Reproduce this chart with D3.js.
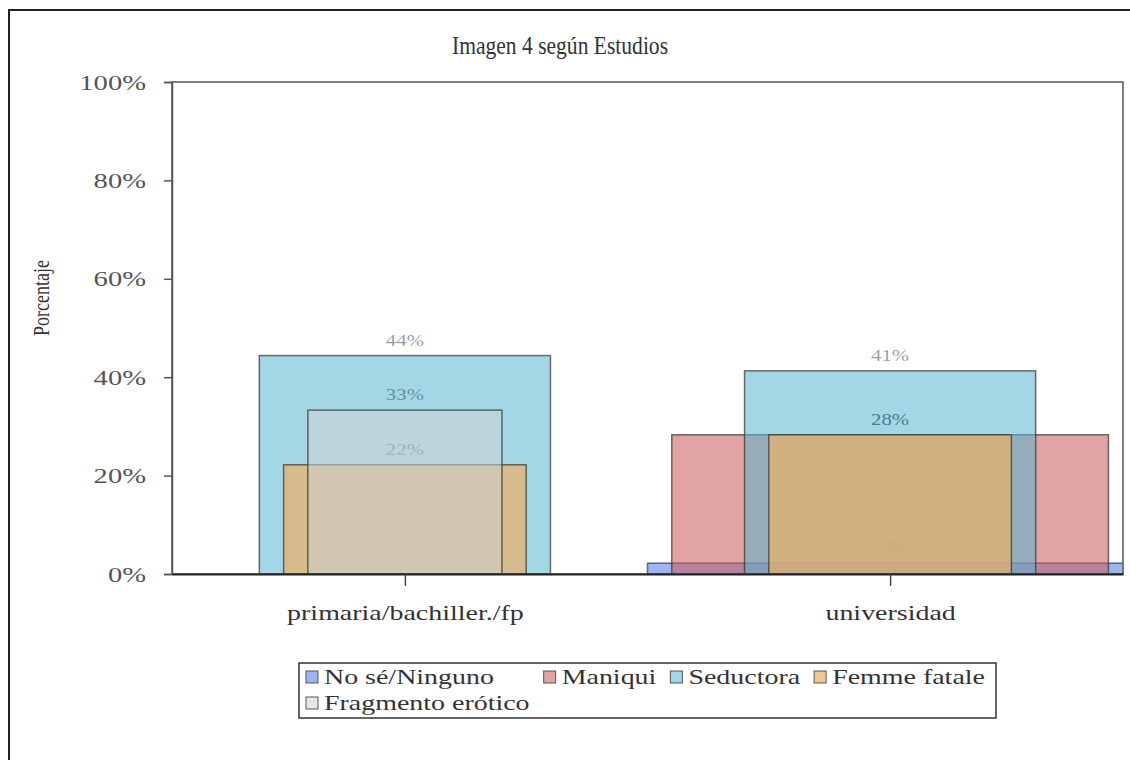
<!DOCTYPE html>
<html>
<head>
<meta charset="utf-8">
<script src="https://cdn.jsdelivr.net/npm/d3@7"></script>
<style>
  body { margin: 0; background: #fff; }
  text { font-family: "Liberation Serif", "Times New Roman", serif; }
</style>
</head>
<body>
<script>
const width = 1130,
  height = 760;

// data
const categories = ["primaria/bachiller./fp", "universidad"];
const seriesNames = ["No sé/Ninguno", "Maniqui", "Seductora", "Femme fatale", "Fragmento erótico"];
const noSe = [0, 2.2];
const maniqui = [0, 28.3];
const seductora = [44.4, 41.3];
const femmeFatale = [22.2, 28.3];
const fragmento = [33.3, 0];
const yTicks = [0, 20, 40, 60, 80, 100];

const seriesValues = [noSe, maniqui, seductora, femmeFatale, fragmento];
// each series is drawn a bit narrower than the one under it
const widthFrac = [1.0, 0.9, 0.6, 0.5, 0.4];
const fills = ["#6a8ef0", "#c8575a", "#5ab6d0", "#ebaf66", "#d0d2d4"];
const opac = [0.65, 0.55, 0.55, 0.7, 0.55];

const sx = 1.3; // glyphs in the picture are wide

const margin = { top: 82, right: 7, bottom: 186, left: 172 };

const svg = d3
  .select("body")
  .append("svg")
  .attr("width", width)
  .attr("height", height);

// outer frame, cut off at right and bottom
svg.append("path")
  .attr("d", "M9,760 V10 H1130")
  .attr("fill", "none")
  .attr("stroke", "#222")
  .attr("stroke-width", 2);

const x = d3
  .scalePoint()
  .domain(categories)
  .range([margin.left, width - margin.right])
  .padding(0.48);

const y = d3
  .scaleLinear()
  .domain([0, 100])
  .range([height - margin.bottom, margin.top]);

svg.append("clipPath")
  .attr("id", "plotclip")
  .append("rect")
  .attr("x", margin.left)
  .attr("y", margin.top)
  .attr("width", width - margin.left - margin.right)
  .attr("height", height - margin.top - margin.bottom);

const plot = svg.append("g").attr("clip-path", "url(#plotclip)");

seriesValues.forEach((vals, s) => {
  const w = x.step() * widthFrac[s];
  const rows = categories
    .map((c, i) => ({ cat: c, v: vals[i] }))
    .filter(d => d.v > 0);
  const g = plot.append("g");
  g.selectAll("rect")
    .data(rows)
    .join("rect")
    .attr("x", d => x(d.cat) - w / 2)
    .attr("y", d => y(d.v))
    .attr("width", w)
    .attr("height", d => y(0) - y(d.v))
    .attr("fill", fills[s])
    .attr("fill-opacity", opac[s])
    .attr("stroke", "#333")
    .attr("stroke-opacity", 0.7)
    .attr("stroke-width", 1.5);
  g.selectAll("text")
    .data(rows)
    .join("text")
    .attr("transform", d => `translate(${x(d.cat)},${y(d.v) - 10}) scale(${sx},1)`)
    .attr("text-anchor", "middle")
    .attr("font-size", 16)
    .attr("fill", "#2f5260")
    .attr("fill-opacity", 0.55)
    .text(d => Math.round(d.v) + "%");
});

// plot frame
svg.append("rect")
  .attr("x", margin.left)
  .attr("y", margin.top)
  .attr("width", width - margin.left - margin.right)
  .attr("height", height - margin.top - margin.bottom)
  .attr("fill", "none")
  .attr("stroke", "#555")
  .attr("stroke-width", 1.5);

// y axis
const yAxis = svg
  .append("g")
  .attr("transform", `translate(${margin.left},0)`)
  .call(d3.axisLeft(y).tickValues(yTicks).tickSize(8).tickFormat(d => d + "%"));
yAxis.select(".domain").attr("stroke", "#555").attr("stroke-width", 1.5);
yAxis.selectAll(".tick line").attr("stroke", "#555").attr("stroke-width", 1.5);
yAxis.selectAll(".tick text")
  .attr("x", null)
  .attr("dy", "0.32em")
  .attr("transform", `translate(-26,0) scale(${sx},1)`)
  .attr("font-size", 22)
  .attr("font-family", "Liberation Serif")
  .attr("fill", "#555");

// x axis
const xAxis = svg
  .append("g")
  .attr("transform", `translate(0,${height - margin.bottom})`)
  .call(d3.axisBottom(x).tickSize(12).tickSizeOuter(0));
xAxis.select(".domain").attr("stroke", "#222").attr("stroke-width", 2);
xAxis.selectAll(".tick line").attr("stroke", "#444").attr("stroke-width", 1.5);
xAxis.selectAll(".tick text")
  .attr("y", null)
  .attr("dy", null)
  .attr("transform", `translate(0,46) scale(${sx},1)`)
  .attr("font-size", 21.5)
  .attr("font-family", "Liberation Serif")
  .attr("fill", "#333");

// title (looks condensed in the picture)
svg.append("text")
  .attr("transform", "translate(560,54) scale(0.88,1)")
  .attr("text-anchor", "middle")
  .attr("font-size", 24.5)
  .attr("fill", "#333")
  .text("Imagen 4 según Estudios");

// y axis title
svg.append("text")
  .attr("transform", "translate(49,298) rotate(-90) scale(1,1.25)")
  .attr("text-anchor", "middle")
  .attr("font-size", 18)
  .attr("fill", "#333")
  .text("Porcentaje");

// legend
const legendCols = 4;
const legend = svg.append("g");
const items = seriesNames.map((name, i) => {
  const t = legend.append("text")
    .attr("font-size", 21.5)
    .attr("fill", "#333")
    .text(name);
  return { name, i, col: i % legendCols, row: Math.floor(i / legendCols), t, len: t.node().getComputedTextLength() * sx };
});
const sw = 12, swGap = 6, colGap = 14;
const colW = d3.range(legendCols).map(c =>
  d3.max(items.filter(d => d.col === c), d => d.len));
const colX = [0];
for (let c = 1; c < legendCols; c++) colX.push(colX[c - 1] + sw + swGap + colW[c - 1] + colGap);
const contentW = colX[legendCols - 1] + sw + swGap + colW[legendCols - 1];
const plotMid = (margin.left + width - margin.right) / 2;
const lx = plotMid - contentW / 2 - 2;
const rowY = [677, 703];

legend.append("rect")
  .attr("x", lx - 7)
  .attr("y", 663)
  .attr("width", contentW + 18)
  .attr("height", 55)
  .attr("fill", "none")
  .attr("stroke", "#333")
  .attr("stroke-width", 1.5);

items.forEach(d => {
  const ix = lx + colX[d.col];
  legend.append("rect")
    .attr("x", ix)
    .attr("y", rowY[d.row] - 6)
    .attr("width", sw)
    .attr("height", sw)
    .attr("fill", fills[d.i])
    .attr("fill-opacity", opac[d.i])
    .attr("stroke", "#555")
    .attr("stroke-width", 1);
  d.t.attr("transform", `translate(${ix + sw + swGap},${rowY[d.row] + 7}) scale(${sx},1)`);
});
</script>
</body>
</html>
